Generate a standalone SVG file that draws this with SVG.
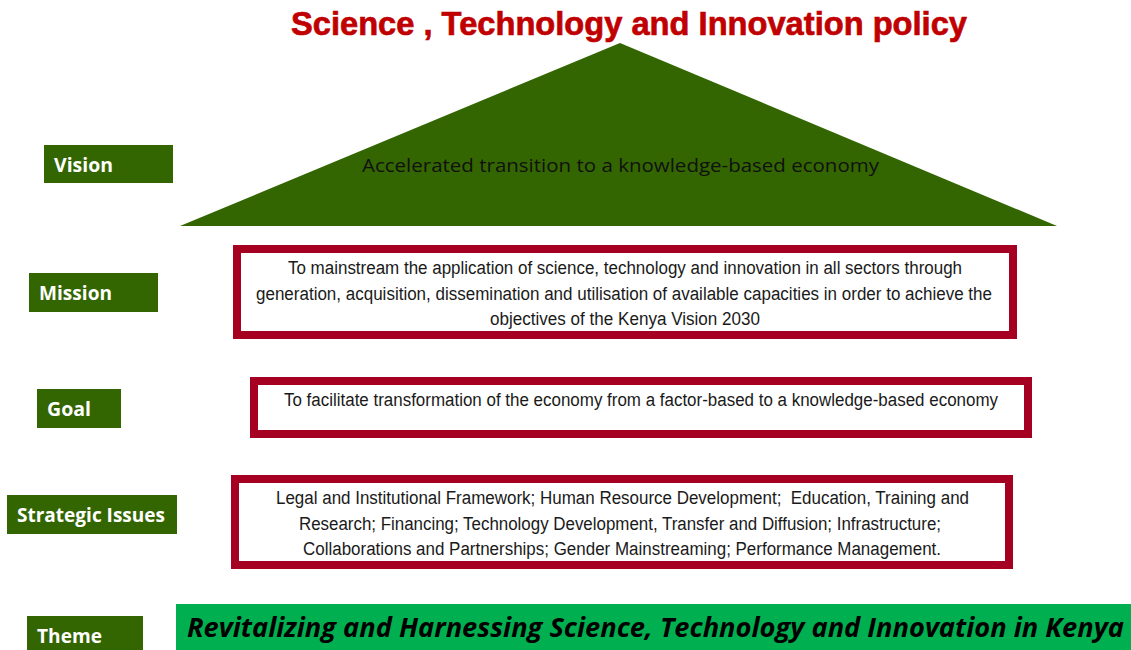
<svg xmlns="http://www.w3.org/2000/svg" width="1131" height="650" viewBox="0 0 1131 650">
  <style>
    .label-box { fill: #336600; }
    .label-text { font-family: "Open Sans", "Liberation Sans", sans-serif; font-weight: bold; font-size: 19px; fill: #ffffff; }
    .frame { fill: #ffffff; stroke: #a50021; stroke-width: 8; }
    .body { font-family: "Liberation Sans", Arial, sans-serif; font-size: 18px; fill: #1a1a1a; white-space: pre; }
    .title { font-family: "Liberation Sans", Arial, sans-serif; font-weight: bold; font-size: 34px; fill: #c00000; stroke: #c00000; stroke-width: 0.7; }
    .vision-text { font-family: "Open Sans", "Liberation Sans", sans-serif; font-size: 19px; fill: #111111; }
    .theme-text { font-family: "Open Sans", "Liberation Sans", sans-serif; font-weight: bold; font-style: italic; font-size: 26px; fill: #000000; }
  </style>

  <rect width="1131" height="650" fill="#ffffff"/>

  <!-- Heading -->
  <g id="title">
    <text class="title" x="291" y="35" textLength="676" lengthAdjust="spacingAndGlyphs">Science , Technology and Innovation policy</text>
  </g>

  <!-- Vision: roof triangle -->
  <g id="vision">
    <polygon points="620,43 1057,226 180,226" fill="#336600"/>
    <text class="vision-text" x="362" y="172" textLength="517" lengthAdjust="spacingAndGlyphs">Accelerated transition to a knowledge-based economy</text>
  </g>
  <g id="vision-label">
    <rect class="label-box" x="44" y="145" width="129" height="38"/>
    <text class="label-text" x="54" y="172" textLength="59" lengthAdjust="spacingAndGlyphs">Vision</text>
  </g>

  <!-- Mission -->
  <g id="mission-label">
    <rect class="label-box" x="29" y="273" width="129" height="39"/>
    <text class="label-text" x="39" y="300" textLength="73" lengthAdjust="spacingAndGlyphs">Mission</text>
  </g>
  <g id="mission">
    <rect class="frame" x="237" y="249" width="776" height="86"/>
    <text class="body" x="288" y="274" textLength="674" lengthAdjust="spacingAndGlyphs">To mainstream the application of science, technology and innovation in all sectors through</text>
    <text class="body" x="256" y="300" textLength="736" lengthAdjust="spacingAndGlyphs">generation, acquisition, dissemination and utilisation of available capacities in order to achieve the</text>
    <text class="body" x="490" y="325" textLength="270" lengthAdjust="spacingAndGlyphs">objectives of the Kenya Vision 2030</text>
  </g>

  <!-- Goal -->
  <g id="goal-label">
    <rect class="label-box" x="37" y="389" width="84" height="39"/>
    <text class="label-text" x="47" y="416" textLength="44" lengthAdjust="spacingAndGlyphs">Goal</text>
  </g>
  <g id="goal">
    <rect class="frame" x="254" y="381" width="774" height="53"/>
    <text class="body" x="284" y="406" textLength="714" lengthAdjust="spacingAndGlyphs">To facilitate transformation of the economy from a factor-based to a knowledge-based economy</text>
  </g>

  <!-- Strategic issues -->
  <g id="strategic-label">
    <rect class="label-box" x="7" y="495" width="170" height="39"/>
    <text class="label-text" x="17" y="522" textLength="148" lengthAdjust="spacingAndGlyphs">Strategic Issues</text>
  </g>
  <g id="strategic">
    <rect class="frame" x="235" y="479" width="774" height="86"/>
    <text class="body" x="276" y="504" textLength="693" lengthAdjust="spacingAndGlyphs" xml:space="preserve">Legal and Institutional Framework; Human Resource Development;  Education, Training and</text>
    <text class="body" x="299" y="530" textLength="642" lengthAdjust="spacingAndGlyphs">Research; Financing; Technology Development, Transfer and Diffusion; Infrastructure;</text>
    <text class="body" x="303" y="555" textLength="638" lengthAdjust="spacingAndGlyphs">Collaborations and Partnerships; Gender Mainstreaming; Performance Management.</text>
  </g>

  <!-- Theme -->
  <g id="theme-label">
    <rect class="label-box" x="27" y="616" width="116" height="40"/>
    <text class="label-text" x="37" y="643" textLength="65" lengthAdjust="spacingAndGlyphs">Theme</text>
  </g>
  <g id="theme">
    <rect x="176" y="604" width="960" height="50" fill="#00b050"/>
    <text class="theme-text" x="187" y="637" textLength="937" lengthAdjust="spacingAndGlyphs">Revitalizing and Harnessing Science, Technology and Innovation in Kenya</text>
  </g>
</svg>
